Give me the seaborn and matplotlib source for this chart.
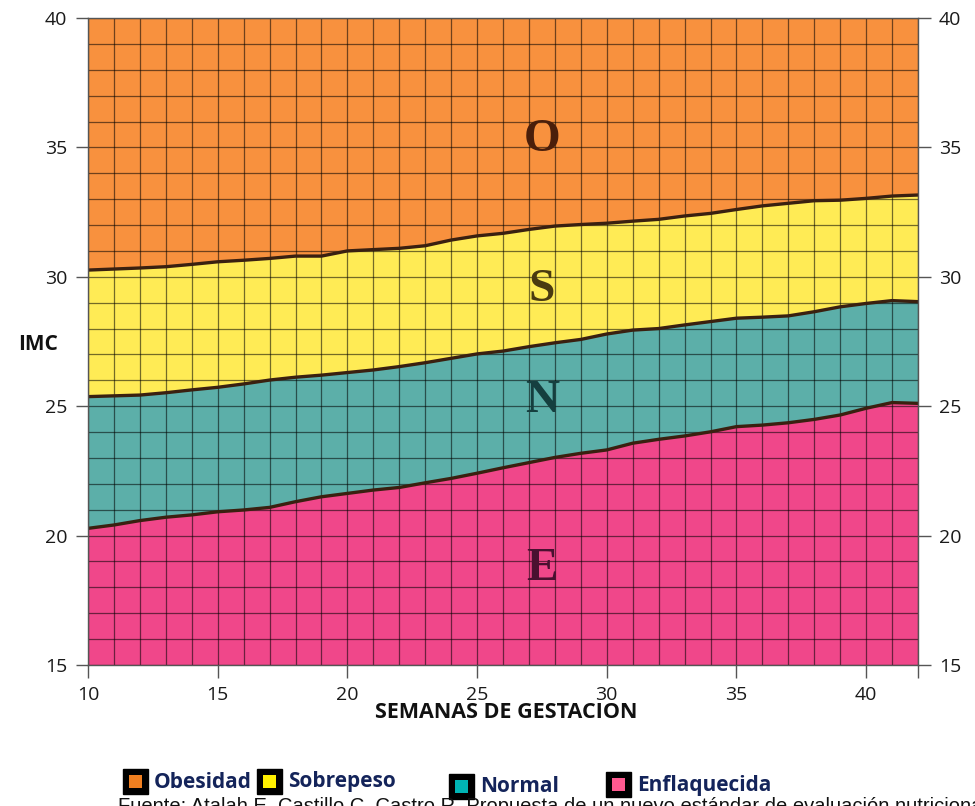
import numpy as np
import pandas as pd
import matplotlib
matplotlib.use("Agg")
import matplotlib.pyplot as plt
from matplotlib.ticker import MultipleLocator, FixedLocator
from matplotlib.patches import Rectangle
import seaborn as sns

# ---- data ----
weeks = list(range(10, 43))
limit_E_N = [20.28, 20.41, 20.58, 20.71, 20.80, 20.92, 20.99, 21.09, 21.31, 21.50,
             21.63, 21.76, 21.86, 22.04, 22.21, 22.41, 22.62, 22.82, 23.02, 23.18,
             23.31, 23.57, 23.72, 23.85, 24.01, 24.21, 24.27, 24.36, 24.49, 24.66,
             24.92, 25.14, 25.11]
limit_N_S = [25.37, 25.40, 25.43, 25.52, 25.63, 25.73, 25.86, 26.01, 26.12, 26.20,
             26.30, 26.40, 26.53, 26.68, 26.85, 27.02, 27.13, 27.30, 27.45, 27.58,
             27.79, 27.94, 28.00, 28.14, 28.27, 28.40, 28.44, 28.49, 28.65, 28.84,
             28.97, 29.08, 29.04]
limit_S_O = [30.26, 30.30, 30.34, 30.39, 30.48, 30.58, 30.64, 30.71, 30.80, 30.80,
             31.00, 31.05, 31.10, 31.20, 31.42, 31.58, 31.68, 31.83, 31.96, 32.02,
             32.07, 32.15, 32.22, 32.35, 32.45, 32.60, 32.74, 32.84, 32.94, 32.96,
             33.03, 33.12, 33.16]
y_min, y_max = 15, 40
x_ticks = [10, 15, 20, 25, 30, 35, 40, 42]
x_tick_labels = ["10", "15", "20", "25", "30", "35", "40", ""]
y_ticks = [15, 20, 25, 30, 35, 40]
zone_letters = ["O", "S", "N", "E"]
zone_letter_y = [35.3, 29.5, 25.2, 18.7]
zone_letter_x = 27.5
legend_names = ["Obesidad", "Sobrepeso", "Normal", "Enflaquecida"]
source_text = ("Fuente: Atalah E, Castillo C, Castro R. Propuesta de un nuevo estándar de "
               "evaluación nutricional en embarazadas.")

col_O = "#F8913E"
col_S = "#FFEB55"
col_N = "#5CAFA9"
col_E = "#F0478A"
letter_cols = ["#4a1e0a", "#4a3a10", "#153f3f", "#4a1030"]
legend_colors = ["#F07F20", "#FFF000", "#00B5B5", "#FF5A90"]

df = pd.DataFrame({"semana": weeks, "E_N": limit_E_N, "N_S": limit_N_S, "S_O": limit_S_O})
long = df.melt(id_vars="semana", var_name="limite", value_name="imc")

sns.set_theme(style="white")
plt.rcParams["font.family"] = ["Open Sans", "DejaVu Sans"]

fig = plt.figure(figsize=(9.75, 8.06), dpi=100)
ax = fig.add_axes([88 / 975, 1 - 665 / 806, (918 - 88) / 975, (665 - 18) / 806])

ax.fill_between(df["semana"], y_min, df["E_N"], color=col_E, lw=0, zorder=1)
ax.fill_between(df["semana"], df["E_N"], df["N_S"], color=col_N, lw=0, zorder=1)
ax.fill_between(df["semana"], df["N_S"], df["S_O"], color=col_S, lw=0, zorder=1)
ax.fill_between(df["semana"], df["S_O"], y_max, color=col_O, lw=0, zorder=1)

sns.lineplot(data=long, x="semana", y="imc", units="limite", estimator=None,
             color="#3a2010", lw=2.4, ax=ax, zorder=4, legend=False)

ax.set_xlim(10, 42)
ax.set_ylim(y_min, y_max)
ax.xaxis.set_major_locator(FixedLocator(x_ticks))
ax.set_xticklabels(x_tick_labels)
ax.set_yticks(y_ticks)
ax.xaxis.set_minor_locator(MultipleLocator(1))
ax.yaxis.set_minor_locator(MultipleLocator(1))
ax.set_axisbelow(False)
ax.grid(which="both", color="black", alpha=0.55, lw=0.9)
ax.tick_params(which="minor", length=0)
ax.tick_params(which="major", direction="out", length=9, width=1, color="#555555",
               labelsize=14, labelcolor="#1a1a1a", left=True, bottom=True,
               right=True, labelright=True, pad=6)
for s in ax.spines.values():
    s.set_color("#555555")
    s.set_linewidth(1)
    s.set_zorder(5)

ax.set_xlabel("")
ax.set_ylabel("")
fig.text(38 / 975, 1 - 345 / 806, "IMC", fontsize=15, fontweight="bold",
         ha="center", va="center", color="#111111")
fig.text(506 / 975, 1 - 713 / 806, "SEMANAS DE GESTACION", fontsize=15.5,
         fontweight="bold", ha="center", va="center", color="#111111")

for letter, yy, c in zip(zone_letters, zone_letter_y, letter_cols):
    ax.text(zone_letter_x, yy, letter, fontsize=34, fontweight="bold",
            family=["Liberation Serif", "DejaVu Serif"],
            color=c, ha="center", va="center", zorder=6)

# legend
box_x = [123, 257, 449, 606]
box_y = [769, 769, 774, 772]
for name, c, bx, by in zip(legend_names, legend_colors, box_x, box_y):
    fig.add_artist(Rectangle((bx / 975, 1 - (by + 25) / 806), 25 / 975, 25 / 806,
                             transform=fig.transFigure, facecolor="black", edgecolor="black"))
    fig.add_artist(Rectangle(((bx + 6) / 975, 1 - (by + 19) / 806), 13 / 975, 13 / 806,
                             transform=fig.transFigure, facecolor=c, edgecolor="none"))
    fig.text((bx + 31) / 975, 1 - (by + 13) / 806, name, fontsize=15, fontweight="bold",
             ha="left", va="center", color="#14245a",
             family=["Open Sans", "DejaVu Sans"])

fig.text(118 / 975, 1 - 797 / 806, source_text, fontsize=14.5, ha="left", va="top",
         color="#111111", family=["Liberation Sans", "DejaVu Sans"])

fig.savefig("out.png", dpi=100)
